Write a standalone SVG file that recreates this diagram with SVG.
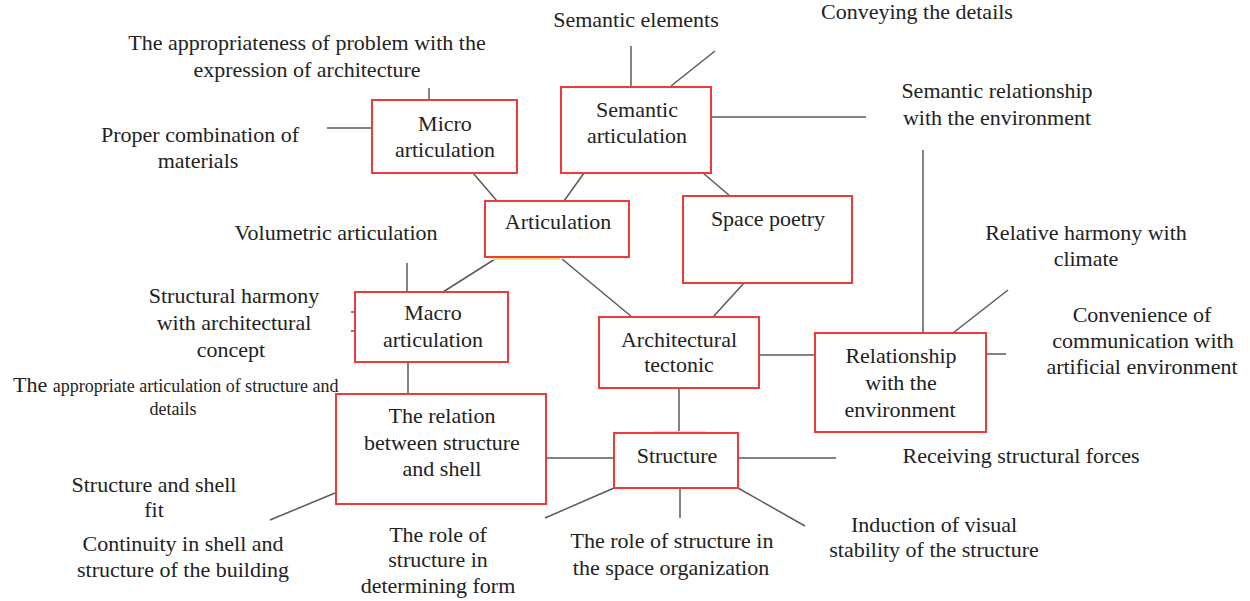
<svg xmlns="http://www.w3.org/2000/svg" width="1250" height="601" viewBox="0 0 1250 601">
<style>
.box{fill:#fff;stroke:#ef3a3a;stroke-width:2}
.ln{stroke:#5a5a5a;stroke-width:1.5;fill:none}
.t{font-family:"Liberation Serif","Times New Roman",serif;font-size:22px;fill:#222;text-anchor:middle}
.s{font-size:18px}
.hl{stroke:#f7dc7a;stroke-width:2}
</style>
<rect width="1250" height="601" fill="#fff"/>
<g id="connectors">
<line class="ln" x1="327" y1="128" x2="372" y2="128"/>
<line class="ln" x1="429" y1="88" x2="429" y2="100"/>
<line class="ln" x1="473" y1="173" x2="497" y2="201"/>
<line class="ln" x1="584" y1="173" x2="564" y2="201"/>
<line class="ln" x1="631" y1="46" x2="631" y2="87"/>
<line class="ln" x1="671" y1="86" x2="715" y2="51"/>
<line class="ln" x1="711" y1="117" x2="866" y2="117"/>
<line class="ln" x1="703" y1="173" x2="730" y2="196"/>
<line class="ln" x1="923" y1="150" x2="923" y2="333"/>
<line class="ln" x1="953" y1="333" x2="1008" y2="290"/>
<line class="ln" x1="986" y1="354" x2="1006" y2="354"/>
<line class="ln" x1="759" y1="355" x2="815" y2="355"/>
<line class="ln" x1="495" y1="259" x2="443" y2="292"/>
<line class="ln" x1="562" y1="259" x2="632" y2="317"/>
<line class="ln" x1="744" y1="283" x2="713" y2="317"/>
<line class="ln" x1="407" y1="263" x2="407" y2="292"/>
<line class="ln" x1="351" y1="312" x2="355" y2="312"/>
<line class="ln" x1="351" y1="331" x2="355" y2="331"/>
<line class="ln" x1="408" y1="362" x2="408" y2="394"/>
<line class="ln" x1="546" y1="458" x2="614" y2="458"/>
<line class="ln" x1="335" y1="493" x2="270" y2="520"/>
<line class="ln" x1="679" y1="388" x2="679" y2="433"/>
<line class="ln" x1="738" y1="458" x2="836" y2="458"/>
<line class="ln" x1="614" y1="488" x2="545" y2="518"/>
<line class="ln" x1="680" y1="488" x2="680" y2="518"/>
<line class="ln" x1="738" y1="488" x2="805" y2="526"/>
</g>
<g id="micro"><rect class="box" x="372" y="100" width="145" height="73"/><text class="t" x="445" y="131">Micro</text><text class="t" x="445" y="157">articulation</text></g>
<g id="semantic"><rect class="box" x="561" y="87" width="150" height="86"/><text class="t" x="637" y="117">Semantic</text><text class="t" x="637" y="143">articulation</text></g>
<g id="articulation"><rect class="box" x="485" y="201" width="144" height="56"/><text class="t" x="558" y="229">Articulation</text><line class="hl" x1="492" y1="259" x2="560" y2="259"/></g>
<g id="space"><rect class="box" x="683" y="196" width="169" height="87"/><text class="t" x="768" y="226">Space poetry</text></g>
<g id="macro"><rect class="box" x="355" y="292" width="153" height="70"/><text class="t" x="433" y="320">Macro</text><text class="t" x="433" y="347">articulation</text></g>
<g id="relation"><rect class="box" x="336" y="394" width="210" height="110"/><text class="t" x="442" y="423">The relation</text><text class="t" x="442" y="450">between structure</text><text class="t" x="442" y="476">and shell</text></g>
<g id="tectonic"><rect class="box" x="599" y="317" width="160" height="71"/><text class="t" x="679" y="347">Architectural</text><text class="t" x="679" y="372">tectonic</text></g>
<g id="environment"><rect class="box" x="815" y="333" width="171" height="99"/><text class="t" x="901" y="363">Relationship</text><text class="t" x="901" y="390">with the</text><text class="t" x="900" y="417">environment</text></g>
<g id="structure"><line class="hl" x1="654" y1="432" x2="705" y2="432"/><rect class="box" x="614" y="433" width="124" height="55"/><text class="t" x="677" y="463">Structure</text></g>
<g id="labels">
<text class="t" x="307" y="50">The appropriateness of problem with the</text>
<text class="t" x="307" y="77">expression of architecture</text>
<text class="t" x="636" y="27">Semantic elements</text>
<text class="t" x="917" y="19">Conveying the details</text>
<text class="t" x="997" y="98">Semantic relationship</text>
<text class="t" x="997" y="125">with the environment</text>
<text class="t" x="200" y="142">Proper combination of</text>
<text class="t" x="198" y="168">materials</text>
<text class="t" x="336" y="240">Volumetric articulation</text>
<text class="t" x="234" y="303">Structural harmony</text>
<text class="t" x="234" y="330">with architectural</text>
<text class="t" x="231" y="357">concept</text>
<text class="t" x="1086" y="240">Relative harmony with</text>
<text class="t" x="1086" y="266">climate</text>
<text class="t" x="1142" y="322">Convenience of</text>
<text class="t" x="1143" y="348">communication with</text>
<text class="t" x="1142" y="374">artificial environment</text>
<text class="t" x="13" y="392" style="text-anchor:start">The <tspan class="s">appropriate articulation of structure and</tspan></text>
<text class="t s" x="173" y="415">details</text>
<text class="t" x="1021" y="463">Receiving structural forces</text>
<text class="t" x="154" y="492">Structure and shell</text>
<text class="t" x="154" y="517">fit</text>
<text class="t" x="183" y="551">Continuity in shell and</text>
<text class="t" x="183" y="577">structure of the building</text>
<text class="t" x="438" y="542">The role of</text>
<text class="t" x="438" y="567">structure in</text>
<text class="t" x="438" y="593">determining form</text>
<text class="t" x="672" y="548">The role of structure in</text>
<text class="t" x="671" y="575">the space organization</text>
<text class="t" x="934" y="532">Induction of visual</text>
<text class="t" x="934" y="557">stability of the structure</text>
</g>
</svg>
